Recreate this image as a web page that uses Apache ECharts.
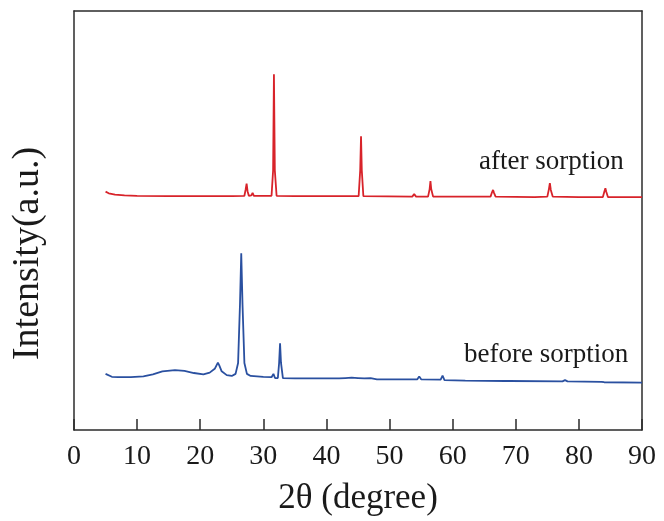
<!DOCTYPE html>
<html>
<head>
<meta charset="utf-8">
<script src="https://cdn.jsdelivr.net/npm/echarts@6/dist/echarts.min.js"></script>
<style>
  html, body { margin: 0; padding: 0; background: #fff; }
  #chart { width: 664px; height: 521px; }
</style>
</head>
<body>
<div id="chart"></div>
<script>
// 2theta positions and intensities (arbitrary units)
const afterTheta = [5.0, 5.5, 6.5, 8, 10, 15, 20, 25, 27.0, 27.2, 27.35, 27.5, 27.7, 28.1, 28.3, 28.5,
    31.3, 31.55, 31.68, 31.82, 32.1, 35, 40.2, 40.5, 40.8, 45.1, 45.35, 45.48, 45.6, 45.85,
    53.6, 53.9, 54.2, 56.1, 56.35, 56.48, 56.6, 56.9, 60, 66.0, 66.25, 66.4, 66.55, 66.8,
    73, 75.0, 75.25, 75.4, 75.55, 75.85, 80, 83.8, 84.05, 84.2, 84.35, 84.6, 90];
const afterIntensity = [56.9, 56.5, 56.2, 56.0, 55.9, 55.8, 55.8, 55.8, 55.9, 57.4, 58.8, 57.0, 55.9, 56.0, 56.6, 55.9,
    55.9, 62, 84.9, 62, 55.9, 55.8, 55.8, 56.2, 55.8, 55.8, 62, 70.1, 62, 55.8,
    55.7, 56.3, 55.7, 55.7, 57.5, 59.4, 57.5, 55.7, 55.7, 55.7, 56.8, 57.3, 56.6, 55.7,
    55.6, 55.7, 57.5, 58.9, 57.3, 55.7, 55.6, 55.6, 57.0, 57.7, 56.8, 55.6, 55.6];

const beforeTheta = [5.0, 5.3, 6.0, 7, 9, 11, 12.5, 14, 16, 17.5, 19, 20.5, 21.5, 22.3, 22.8, 23.0, 23.4, 24.2,
    25.0, 25.6, 26.0, 26.3, 26.5, 26.7, 27.0, 27.4, 28, 30, 31.3, 31.6, 31.85, 32.3, 32.5, 32.65, 32.8, 33.1,
    35, 40, 40.3, 40.6, 42, 43, 44, 45, 46, 47.0, 48, 52.6, 52.9, 53.3, 54.4, 54.7, 55.0,
    58.1, 58.4, 58.7, 62, 68.3, 68.6, 68.9, 77.4, 77.8, 78.2, 83.6, 83.8, 84.0, 90];
const beforeIntensity = [13.4, 13.0, 12.7, 12.6, 12.6, 12.8, 13.3, 14.0, 14.3, 14.1, 13.6, 13.3, 13.7, 14.6, 16.1, 15.5, 14.0, 13.1,
    12.9, 13.4, 16, 30, 42.2, 30, 16, 13.4, 12.9, 12.7, 12.6, 13.4, 12.4, 12.4, 16, 20.7, 16, 12.4,
    12.3, 12.3, 12.5, 12.3, 12.3, 12.4, 12.5, 12.4, 12.3, 12.4, 12.1, 12.1, 12.4, 12.1, 12.1, 12.8, 12.1,
    12.0, 13.0, 11.9, 11.8, 11.7, 11.9, 11.7, 11.6, 11.9, 11.6, 11.5, 11.6, 11.4, 11.3];

const xTicks = [0, 10, 20, 30, 40, 50, 60, 70, 80, 90];
const seriesNames = ['after sorption', 'before sorption'];

const FONT = 'Liberation Serif';
const AXIS_COLOR = '#2b2b2b';

const toPairs = (xs, ys) => xs.map((x, i) => [x, ys[i]]);

const frameAxis = (extra) => ({
    min: 0,
    max: 100,
    axisLine: { show: true, onZero: false, lineStyle: { color: AXIS_COLOR, width: 1.5 } },
    axisTick: { show: false },
    axisLabel: { show: false },
    splitLine: { show: false },
    ...extra
});

const option = {
    animation: false,
    backgroundColor: '#fff',
    grid: { left: 74, right: 22, top: 11, bottom: 89 },
    xAxis: [{
        type: 'value',
        min: xTicks[0],
        max: xTicks[xTicks.length - 1],
        interval: 10,
        name: '2\u03b8 (degree)',
        nameLocation: 'middle',
        nameGap: 51,
        nameTextStyle: { fontFamily: FONT, fontSize: 35, color: '#1a1a1a' },
        axisLine: { onZero: false, lineStyle: { color: AXIS_COLOR, width: 1.5 } },
        axisTick: { inside: true, length: 11, lineStyle: { color: AXIS_COLOR, width: 1.5 } },
        axisLabel: { fontFamily: FONT, fontSize: 28, color: '#1a1a1a', margin: 13 },
        splitLine: { show: false }
    }, {
        type: 'value',
        position: 'top',
        min: 0,
        max: 90,
        axisLine: { show: true, onZero: false, lineStyle: { color: AXIS_COLOR, width: 1.5 } },
        axisTick: { show: false },
        axisLabel: { show: false },
        splitLine: { show: false }
    }],
    yAxis: [frameAxis({
        type: 'value',
        position: 'left',
        name: 'Intensity(a.u.)',
        nameLocation: 'middle',
        nameGap: 27,
        nameTextStyle: { fontFamily: FONT, fontSize: 38, color: '#1a1a1a', padding: [0, 66, 0, 0] }
    }), frameAxis({
        type: 'value',
        position: 'right'
    })],
    graphic: [{
        type: 'text',
        left: 479,
        top: 148,
        style: { text: seriesNames[0], font: `27px "${FONT}"`, fill: '#1a1a1a' }
    }, {
        type: 'text',
        left: 464,
        top: 341,
        style: { text: seriesNames[1], font: `27px "${FONT}"`, fill: '#1a1a1a' }
    }],
    series: [{
        name: seriesNames[0],
        type: 'line',
        data: toPairs(afterTheta, afterIntensity),
        showSymbol: false,
        lineStyle: { color: '#d8232a', width: 1.8 },
        z: 3
    }, {
        name: seriesNames[1],
        type: 'line',
        data: toPairs(beforeTheta, beforeIntensity),
        showSymbol: false,
        lineStyle: { color: '#2a50a0', width: 1.8 },
        z: 3
    }]
};

const myChart = echarts.init(document.getElementById('chart'));
myChart.setOption(option);
</script>
</body>
</html>
